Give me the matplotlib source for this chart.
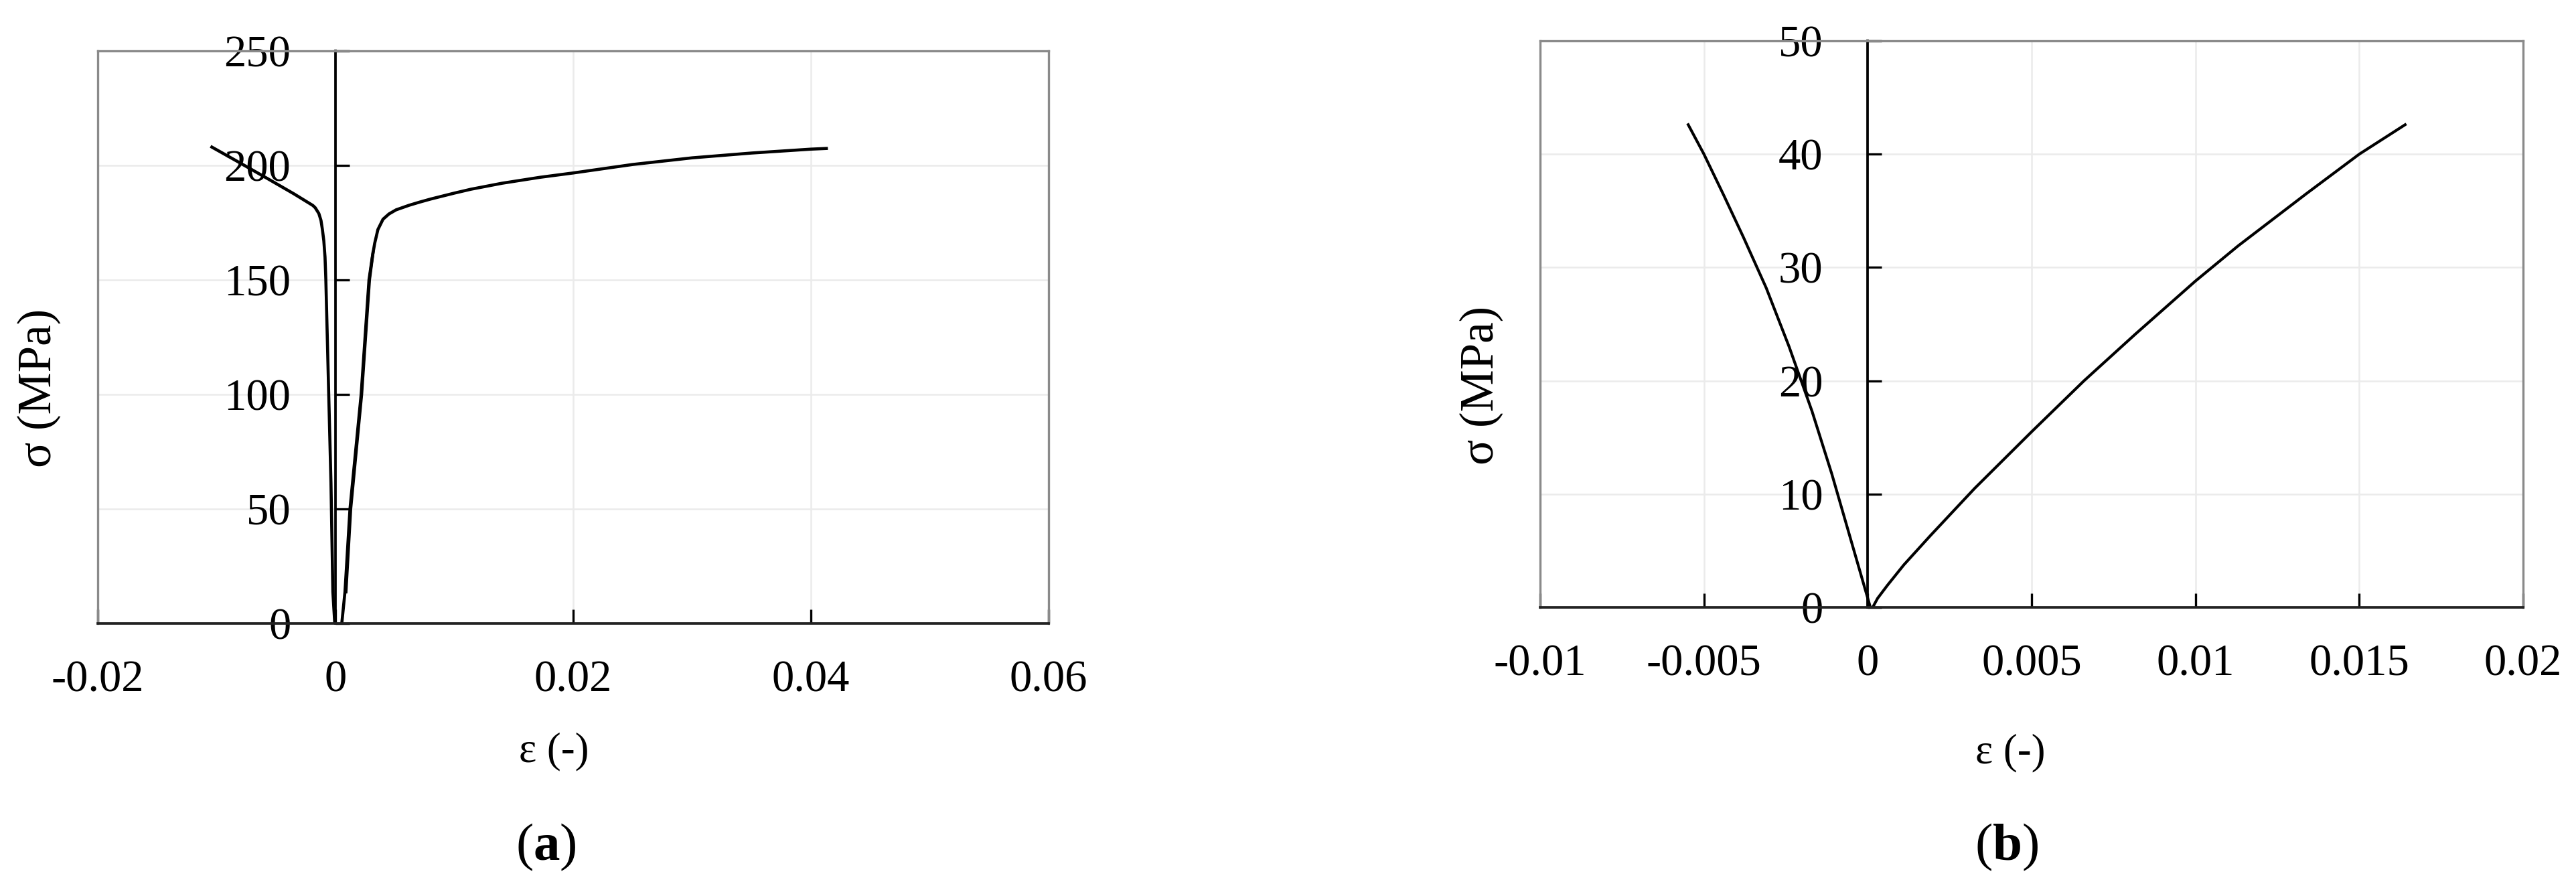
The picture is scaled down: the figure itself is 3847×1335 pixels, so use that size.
import matplotlib
matplotlib.use("Agg")
import matplotlib.pyplot as plt

# フォント設定
plt.rcParams['font.family'] = ['Liberation Serif', 'DejaVu Serif']
plt.rcParams['mathtext.fontset'] = 'custom'
plt.rcParams['mathtext.rm'] = 'Liberation Serif'
plt.rcParams['mathtext.bf'] = 'Liberation Serif:bold'

# ---- データ (a) ----
a_comp_eps = [-0.0104, -0.008, -0.0057, -0.0035, -0.0019, -0.0017, -0.0014, -0.00122,
              -0.0011, -0.00098, -0.00088, -0.00081, -0.00056, -0.00038, -0.00022, -0.00006]
a_comp_sig = [208, 201, 194.2, 187.6, 182.5, 181.5, 179, 176,
              172, 167, 160, 150, 98.4, 61.4, 13.8, 0]
a_tens_eps = [0.00053, 0.0008, 0.00122, 0.00216, 0.00282, 0.0031, 0.0033, 0.00357, 0.004,
              0.0045, 0.0051, 0.0062, 0.0071, 0.008, 0.01, 0.0114, 0.014, 0.0172, 0.02,
              0.025, 0.03, 0.035, 0.04, 0.0413]
a_tens_sig = [0, 13.8, 50, 100, 150, 160, 166, 172, 176.5,
              178.8, 180.6, 182.6, 184, 185.3, 187.9, 189.6, 192.2, 194.8, 196.7,
              200.4, 203.3, 205.4, 207.1, 207.4]
# 繰り返し載荷で重なった部分
a_cyc_eps = [0.00088, 0.00128, 0.0022, 0.00286, 0.00316]
a_cyc_sig = [13.8, 50, 100, 150, 162]

a_xticks = [-0.02, 0, 0.02, 0.04, 0.06]
a_xlabels = ['-0.02', '0', '0.02', '0.04', '0.06']
a_yticks = [0, 50, 100, 150, 200, 250]
a_ylabels = ['0', '50', '100', '150', '200', '250']

# ---- データ (b) ----
b_comp_eps = [-0.00548, -0.0050, -0.0044, -0.0038, -0.0031, -0.0024, -0.0017,
              -0.0011, -0.0005, 0.00008]
b_comp_sig = [42.6, 40.0, 36.4, 32.7, 28.2, 23.0, 17.3, 11.8, 5.8, 0]
b_tens_eps = [0.00015, 0.0003, 0.0006, 0.0011, 0.0019, 0.00326, 0.005, 0.0066, 0.00816,
              0.01, 0.0113, 0.01338, 0.015, 0.0164]
b_tens_sig = [0, 0.8, 1.95, 3.75, 6.3, 10.5, 15.5, 20.0, 24.1,
              28.8, 31.9, 36.5, 40.0, 42.6]

b_xticks = [-0.01, -0.005, 0, 0.005, 0.01, 0.015, 0.02]
b_xlabels = ['-0.01', '-0.005', '0', '0.005', '0.01', '0.015', '0.02']
b_yticks = [0, 10, 20, 30, 40, 50]
b_ylabels = ['0', '10', '20', '30', '40', '50']

W, H = 3847, 1335
fig = plt.figure(figsize=(W / 300, H / 300), dpi=300)

FRAME = '#8a8a8a'
GRID = '#ebebeb'


def setup(ax, xticks, xlabels, yticks, ylabels):
    ax.set_xlim(xticks[0], xticks[-1])
    ax.set_ylim(yticks[0], yticks[-1])
    ax.set_xticks(xticks)
    ax.set_xticklabels(xlabels)
    ax.set_yticks(yticks)
    ax.set_yticklabels(ylabels)
    ax.grid(True, color=GRID, lw=0.6, zorder=0)
    ax.set_axisbelow(True)
    # 左の軸は x=0 に
    ax.spines['left'].set_position(('data', 0))
    ax.spines['left'].set_color('black')
    ax.spines['left'].set_linewidth(0.9)
    ax.spines['bottom'].set_color('#222222')
    ax.spines['bottom'].set_linewidth(0.9)
    for s in ['top', 'right']:
        ax.spines[s].set_color(FRAME)
        ax.spines[s].set_linewidth(0.8)
    ax.axvline(xticks[0], color=FRAME, lw=0.8, clip_on=False)
    ax.tick_params(axis='both', direction='in', length=5, width=0.8,
                   color='black', labelsize=16, top=False, right=False)
    ax.tick_params(axis='x', pad=13)
    ax.tick_params(axis='y', pad=16)


# (a)
ax_a = fig.add_axes([146 / W, 1 - 931 / H, 1420 / W, 855 / H])
setup(ax_a, a_xticks, a_xlabels, a_yticks, a_ylabels)
ax_a.plot(a_comp_eps, a_comp_sig, color='black', lw=1.1)
ax_a.plot(a_tens_eps, a_tens_sig, color='black', lw=1.1)
ax_a.plot(a_cyc_eps, a_cyc_sig, color='black', lw=1.1)

# (b)
ax_b = fig.add_axes([2300 / W, 1 - 907 / H, 1468 / W, 846 / H])
setup(ax_b, b_xticks, b_xlabels, b_yticks, b_ylabels)
ax_b.plot(b_comp_eps, b_comp_sig, color='black', lw=1.0)
ax_b.plot(b_tens_eps, b_tens_sig, color='black', lw=1.0)

# ラベル
fig.text(58 / W, 1 - 579 / H, 'σ (MPa)', rotation=90, fontsize=17, ha='center', va='center')
fig.text(2212 / W, 1 - 575 / H, 'σ (MPa)', rotation=90, fontsize=17, ha='center', va='center')
fig.text(827 / W, 1 - 1122 / H, 'ε (-)', fontsize=15, ha='center', va='center')
fig.text(3002 / W, 1 - 1124 / H, 'ε (-)', fontsize=15, ha='center', va='center')
fig.text(815 / W, 1 - 1265 / H, r'($\mathbf{a}$)', fontsize=19, ha='center', va='center')
fig.text(2997 / W, 1 - 1265 / H, r'($\mathbf{b}$)', fontsize=19, ha='center', va='center')

fig.savefig('out.png', dpi=300, facecolor='white')
